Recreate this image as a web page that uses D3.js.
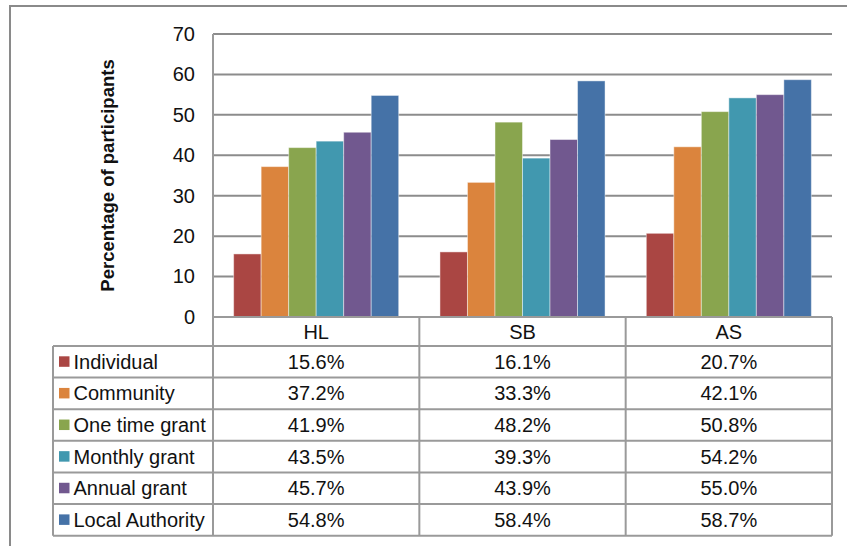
<!DOCTYPE html>
<html>
<head>
<meta charset="utf-8">
<script src="https://cdn.jsdelivr.net/npm/d3@7"></script>
<style>
  html, body { margin: 0; padding: 0; background: #fff; }
  svg { display: block; font-family: "Liberation Sans", Arial, sans-serif; }
</style>
</head>
<body>
<svg id="chart" width="847" height="546"></svg>
<script>
// Sites along the category axis
const categories = ["HL", "SB", "AS"];
// Funding sources (one bar per source within each site)
const seriesNames = ["Individual", "Community", "One time grant", "Monthly grant", "Annual grant", "Local Authority"];
// Percentages per source, in site order
const individual     = [15.6, 16.1, 20.7];
const community      = [37.2, 33.3, 42.1];
const oneTimeGrant   = [41.9, 48.2, 50.8];
const monthlyGrant   = [43.5, 39.3, 54.2];
const annualGrant    = [45.7, 43.9, 55.0];
const localAuthority = [54.8, 58.4, 58.7];
const yTicks = [0, 10, 20, 30, 40, 50, 60, 70];
const colors = ["#AA4643", "#DB843D", "#89A54E", "#4198AF", "#71588F", "#4572A7"];

const seriesValues = [individual, community, oneTimeGrant, monthlyGrant, annualGrant, localAuthority];
const series = seriesNames.map((name, i) => ({ name, values: seriesValues[i], color: colors[i] }));

const svg = d3.select("#chart");
const gridColor = "#8c8c8c";
const lineColor = "#9a9a9a";
const fontSize = 20;

// Outer chart frame (runs past the right and bottom edges)
svg.append("rect")
  .attr("x", 10).attr("y", 6)
  .attr("width", 900).attr("height", 600)
  .attr("fill", "none").attr("stroke", "#8a8a8a").attr("stroke-width", 2);

const plot = { left: 213, right: 832, top: 34, bottom: 317 };
const y = d3.scaleLinear().domain([0, 70]).range([plot.bottom, plot.top]);
const x0 = d3.scaleBand().domain(categories).range([plot.left, plot.right]).padding(0);
const x1 = d3.scaleBand().domain(seriesNames).range([0, x0.bandwidth()])
  .paddingInner(0).paddingOuter(0.75);

// Horizontal gridlines and y tick labels
const yAxis = d3.axisLeft(y).tickValues(yTicks).tickSize(0).tickPadding(18);
const yg = svg.append("g").attr("transform", `translate(${plot.left},0)`).call(yAxis);
yg.select(".domain").remove();
yg.selectAll("text")
  .attr("font-size", fontSize).attr("fill", "#111")
  .attr("font-family", "'Liberation Sans', Arial, sans-serif");

svg.append("g").selectAll("line")
  .data(yTicks.filter(t => t > 0))
  .join("line")
  .attr("x1", plot.left).attr("x2", plot.right)
  .attr("y1", d => y(d)).attr("y2", d => y(d))
  .attr("stroke", gridColor).attr("stroke-width", 2);

// Bars
const groups = svg.append("g").selectAll("g")
  .data(categories)
  .join("g")
  .attr("transform", d => `translate(${x0(d)},0)`);

groups.selectAll("rect")
  .data((c, ci) => series.map(s => ({ name: s.name, value: s.values[ci], color: s.color })))
  .join("rect")
  .attr("x", d => x1(d.name))
  .attr("y", d => y(d.value))
  .attr("width", x1.bandwidth())
  .attr("height", d => y(0) - y(d.value))
  .attr("fill", d => d.color)
  .attr("stroke", "rgba(255,255,255,0.45)")
  .attr("stroke-width", 1);

// Y axis title
svg.append("text")
  .attr("transform", `translate(114,${(plot.top + plot.bottom) / 2}) rotate(-90)`)
  .attr("text-anchor", "middle")
  .attr("font-size", 18.5).attr("font-weight", "bold").attr("fill", "#111")
  .text("Percentage of participants");

// Data table below the plot
const legendLeft = 53;
const headerBottom = 346;
const rowH = (535.7 - headerBottom) / series.length;
const rowY = i => headerBottom + i * rowH;

const table = svg.append("g");
const colEdges = [plot.left, ...categories.slice(1).map(c => x0(c)), plot.right];

// horizontal rules
table.append("line")
  .attr("x1", plot.left).attr("x2", plot.right)
  .attr("y1", plot.bottom).attr("y2", plot.bottom)
  .attr("stroke", lineColor).attr("stroke-width", 2);
d3.range(series.length + 1).forEach(i => {
  table.append("line")
    .attr("x1", legendLeft).attr("x2", plot.right)
    .attr("y1", rowY(i)).attr("y2", rowY(i))
    .attr("stroke", lineColor).attr("stroke-width", 2);
});
// vertical rules
table.append("line")
  .attr("x1", plot.left).attr("x2", plot.left)
  .attr("y1", plot.top).attr("y2", rowY(series.length))
  .attr("stroke", lineColor).attr("stroke-width", 2);
colEdges.slice(1).forEach(xv => {
  table.append("line")
    .attr("x1", xv).attr("x2", xv)
    .attr("y1", plot.bottom).attr("y2", rowY(series.length))
    .attr("stroke", lineColor).attr("stroke-width", 2);
});
table.append("line")
  .attr("x1", legendLeft).attr("x2", legendLeft)
  .attr("y1", headerBottom).attr("y2", rowY(series.length))
  .attr("stroke", lineColor).attr("stroke-width", 2);

// category header
table.selectAll("text.cat")
  .data(categories)
  .join("text")
  .attr("class", "cat")
  .attr("x", d => x0(d) + x0.bandwidth() / 2)
  .attr("y", (plot.bottom + headerBottom) / 2)
  .attr("dy", "0.35em")
  .attr("text-anchor", "middle")
  .attr("font-size", fontSize).attr("fill", "#111")
  .text(d => d);

// legend keys and names
const rows = table.selectAll("g.row")
  .data(series)
  .join("g")
  .attr("class", "row")
  .attr("transform", (d, i) => `translate(0,${rowY(i) + rowH / 2})`);

rows.append("rect")
  .attr("x", 59).attr("y", -5.5)
  .attr("width", 10.5).attr("height", 10.5)
  .attr("fill", d => d.color);

rows.append("text")
  .attr("x", 73.5).attr("dy", "0.35em")
  .attr("font-size", fontSize).attr("fill", "#111")
  .text(d => d.name);

rows.selectAll("text.val")
  .data(d => d.values.map((v, ci) => ({ v, c: categories[ci] })))
  .join("text")
  .attr("class", "val")
  .attr("x", d => x0(d.c) + x0.bandwidth() / 2)
  .attr("dy", "0.35em")
  .attr("text-anchor", "middle")
  .attr("font-size", fontSize).attr("fill", "#111")
  .text(d => d.v.toFixed(1) + "%");
</script>
</body>
</html>
